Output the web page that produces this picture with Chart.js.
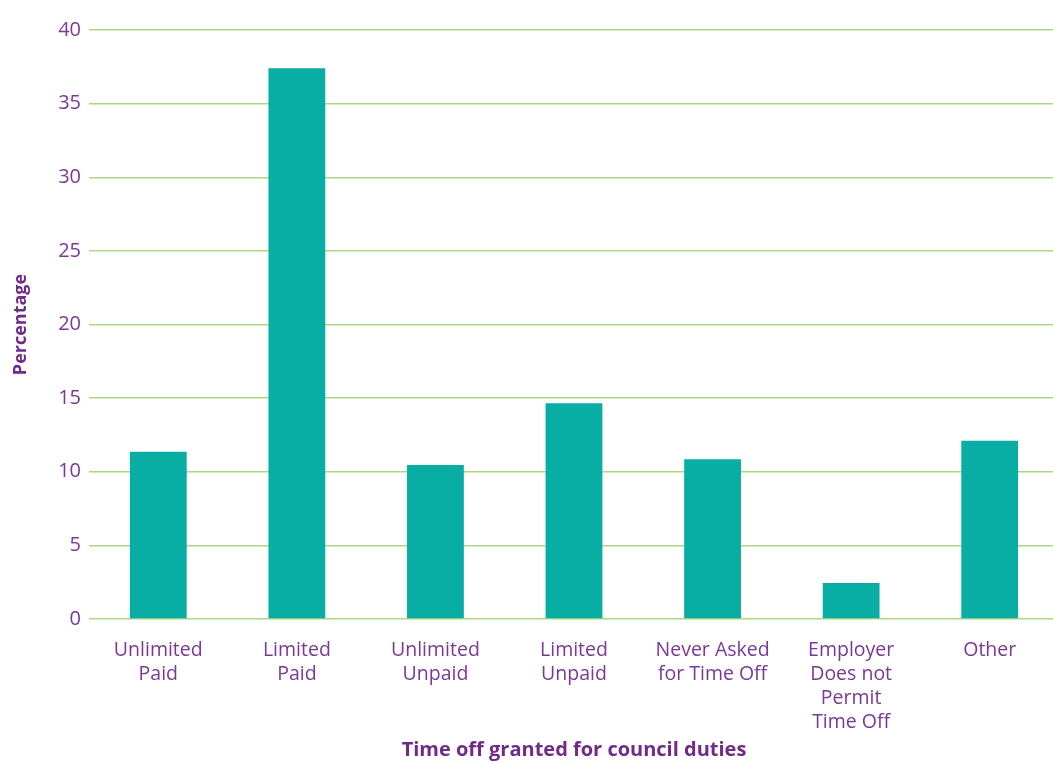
<!DOCTYPE html>
<html>
<head>
<meta charset="utf-8">
<script src="https://cdn.jsdelivr.net/npm/chart.js@4/dist/chart.umd.min.js"></script>
<style>
  html, body { margin: 0; padding: 0; background: #fff; overflow: hidden; }
  /* plot runs a few pixels past the right edge of the window */
  #wrap { width: 1059px; height: 762px; }
</style>
</head>
<body>
<div id="wrap"><canvas id="timeOffChart"></canvas></div>
<script>
// categories (multi-line labels) and percentages
var categories = [
  ['Unlimited', 'Paid'],
  ['Limited', 'Paid'],
  ['Unlimited', 'Unpaid'],
  ['Limited', 'Unpaid'],
  ['Never Asked', 'for Time Off'],
  ['Employer', 'Does not', 'Permit', 'Time Off'],
  ['Other']
];
var percentages = [11.35, 37.4, 10.45, 14.65, 10.85, 2.45, 12.1];
var yTicks = [0, 5, 10, 15, 20, 25, 30, 35, 40];

var purple = '#7b3894';
var purpleDark = '#702a88';
var teal = '#08aea3';
var gridGreen = '#acd885';
var fontFamily = '"Open Sans", "DejaVu Sans", sans-serif';

var ctx = document.getElementById('timeOffChart').getContext('2d');
var timeOffChart = new Chart(ctx, {
  type: 'bar',
  data: {
    labels: categories,
    datasets: [{
      data: percentages,
      backgroundColor: teal,
      borderWidth: 0,
      barPercentage: 0.41,
      categoryPercentage: 1.0
    }]
  },
  options: {
    responsive: true,
    maintainAspectRatio: false,
    animation: false,
    layout: { padding: { top: 30, right: 0, bottom: 0, left: 0 } },
    plugins: {
      legend: { display: false },
      tooltip: { enabled: false }
    },
    scales: {
      x: {
        grid: { display: false, drawTicks: false },
        border: { display: false },
        ticks: {
          color: purple,
          font: { family: fontFamily, size: 19.5, lineHeight: 1.23 },
          padding: 19,
          maxRotation: 0,
          autoSkip: false
        },
        title: {
          display: true,
          text: 'Time off granted for council duties',
          color: purpleDark,
          font: { family: fontFamily, size: 20, weight: 'bold', lineHeight: 1.2 },
          padding: { top: 0, bottom: 0 }
        },
        afterFit: function(scale) { scale.height = 143; }
      },
      y: {
        min: 0,
        max: 40,
        afterBuildTicks: function(scale) {
          scale.ticks = yTicks.map(function(v) { return { value: v }; });
        },
        grid: {
          color: gridGreen,
          lineWidth: 1.5,
          drawTicks: false
        },
        border: { display: false },
        ticks: {
          color: purple,
          font: { family: fontFamily, size: 20 },
          padding: 8
        },
        title: {
          display: true,
          text: 'Percentage',
          color: purpleDark,
          font: { family: fontFamily, size: 18, weight: 'bold', lineHeight: 1.2 },
          padding: { top: 10, bottom: 0 }
        },
        afterFit: function(scale) { scale.width = 89; }
      }
    }
  }
});
</script>
</body>
</html>
